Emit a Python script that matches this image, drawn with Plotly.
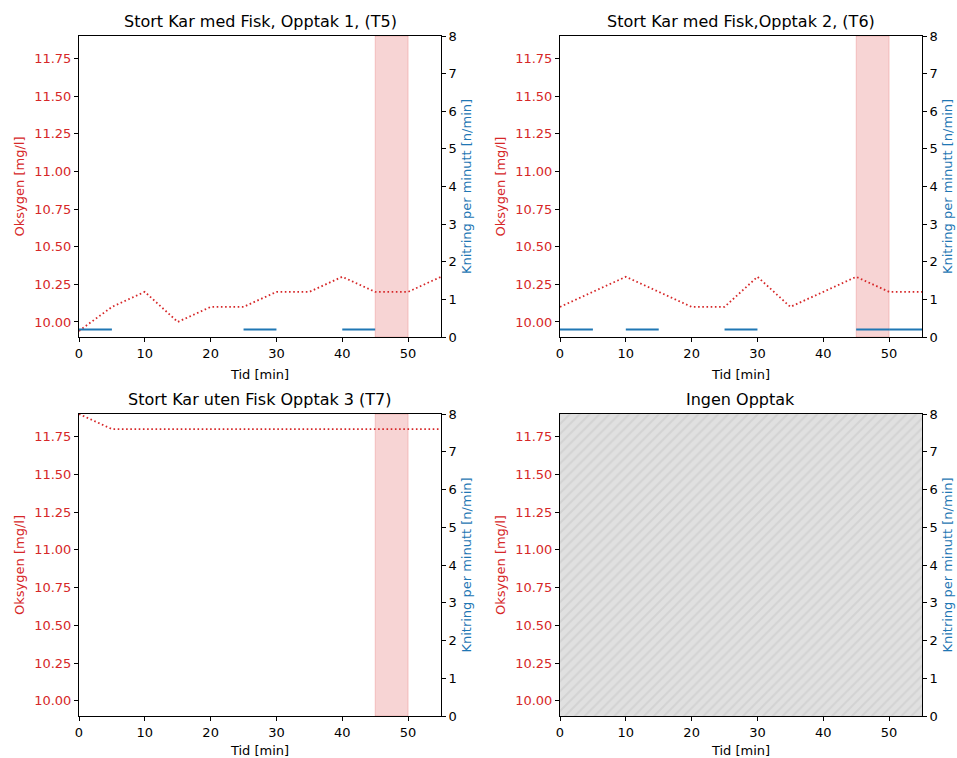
import plotly.graph_objects as go

# ---- data ----
t = [0, 5, 10, 15, 20, 25, 30, 35, 40, 45, 50, 55]
oxy_T5 = [9.94, 10.1, 10.2, 10.0, 10.1, 10.1, 10.2, 10.2, 10.3, 10.2, 10.2, 10.3]
oxy_T6 = [10.1, 10.2, 10.3, 10.2, 10.1, 10.1, 10.3, 10.1, 10.2, 10.3, 10.2, 10.2]
oxy_T7 = [11.9, 11.8, 11.8, 11.8, 11.8, 11.8, 11.8, 11.8, 11.8, 11.8, 11.8, 11.8]
knit_starts_T5 = [0, 25, 40, 55]
knit_starts_T6 = [0, 10, 25, 45, 50]
knit_rate = 0.2
interval = 5
span_start, span_end = 45, 50
titles = ["Stort Kar med Fisk, Opptak 1, (T5)", "Stort Kar med Fisk,Opptak 2, (T6)",
          "Stort Kar uten Fisk Opptak 3 (T7)", "Ingen Opptak"]
oxy_ticks = [10.00, 10.25, 10.50, 10.75, 11.00, 11.25, 11.50, 11.75]
knit_ticks = [0, 1, 2, 3, 4, 5, 6, 7, 8]
x_ticks = [0, 10, 20, 30, 40, 50]

RED = "#d62728"
BLUE = "#1f77b4"
W, H = 957, 758

def fx(px):
    return px / W

def fy(py):
    return 1 - py / H

xdoms = [[fx(79), fx(441)], [fx(560), fx(922)]]
ydoms = [[fy(337), fy(36)], [fy(716), fy(414)]]

fig = go.Figure()
font = dict(family="DejaVu Sans", size=13, color="black")
layout = dict(width=W, height=H, margin=dict(l=0, r=0, t=0, b=0),
              paper_bgcolor="white", plot_bgcolor="white", showlegend=False,
              font=font)
annotations = []
shapes = []

def knit_xy(starts):
    xs, ys = [], []
    for s in starts:
        xs += [s, s + interval, None]
        ys += [knit_rate, knit_rate, None]
    return xs, ys

panels = [
    (oxy_T5, knit_starts_T5, True),
    (oxy_T6, knit_starts_T6, True),
    (oxy_T7, None, True),
    (None, None, False),
]

for i, (oxy, knits, span) in enumerate(panels):
    r, c = divmod(i, 2)
    n = i + 1
    xa = "x" if n == 1 else f"x{n}"
    ya_l_num = 2 * i + 1
    ya_r_num = 2 * i + 2
    ya_l = "y" if ya_l_num == 1 else f"y{ya_l_num}"
    ya_r = f"y{ya_r_num}"
    xkey = "xaxis" if n == 1 else f"xaxis{n}"
    ylkey = "yaxis" if ya_l_num == 1 else f"yaxis{ya_l_num}"
    yrkey = f"yaxis{ya_r_num}"

    layout[xkey] = dict(domain=xdoms[c], anchor=ya_l, range=[0, 55], tickvals=x_ticks,
                        showline=True, linecolor="black", linewidth=1, mirror=True,
                        ticks="outside", ticklen=4, tickcolor="black", showgrid=False,
                        zeroline=False, automargin=False,
                        title=dict(text="Tid [min]", standoff=10, font=dict(size=13)),
                        tickfont=dict(size=13))
    layout[ylkey] = dict(domain=ydoms[r], anchor=xa, range=[9.9, 11.9], tickvals=oxy_ticks,
                         tickformat=".2f", showline=True, linecolor="black", linewidth=1,
                         ticks="outside", ticklen=4, tickcolor="black", showgrid=False,
                         zeroline=False, automargin=False,
                         tickfont=dict(color=RED, size=13),
                         title=dict(text="Oksygen [mg/l]", font=dict(color=RED, size=13),
                                    standoff=6))
    layout[yrkey] = dict(domain=ydoms[r], anchor=xa, overlaying=ya_l, side="right",
                         range=[0, 8], tickvals=knit_ticks, showline=True, linecolor="black",
                         linewidth=1, ticks="outside", ticklen=4, tickcolor="black",
                         showgrid=False, zeroline=False, automargin=False,
                         tickfont=dict(size=13),
                         title=dict(text="Knitring per minutt [n/min]",
                                    font=dict(color=BLUE, size=13), standoff=6))

    if span:
        shapes.append(dict(type="rect", xref=xa, yref=f"{ya_l} domain", x0=span_start,
                           x1=span_end, y0=0, y1=1, fillcolor="rgba(214,39,40,0.2)",
                           line=dict(color="rgba(214,39,40,0.2)", width=1), layer="below"))
    if i == 3:
        fig.add_trace(go.Bar(x=[27.5], y=[2.0], base=[9.9], width=[55], xaxis=xa, yaxis=ya_l,
                             marker=dict(color="#e0e0e0", line=dict(width=0),
                                         pattern=dict(shape="/", fgcolor="#c6c6c6",
                                                      bgcolor="#e0e0e0", size=7,
                                                      solidity=0.3)),
                             hoverinfo="skip"))
    if oxy is not None:
        fig.add_trace(go.Scatter(x=t, y=oxy, mode="lines", xaxis=xa, yaxis=ya_l,
                                 line=dict(color=RED, width=1.8, dash="1.6px,2.6px")))
    else:
        fig.add_trace(go.Scatter(x=[None], y=[None], mode="lines", xaxis=xa, yaxis=ya_l,
                                 hoverinfo="skip"))
    if knits is not None:
        kx, ky = knit_xy(knits)
        fig.add_trace(go.Scatter(x=kx, y=ky, mode="lines", xaxis=xa, yaxis=ya_r,
                                 line=dict(color=BLUE, width=2), connectgaps=False))
    else:
        fig.add_trace(go.Scatter(x=[None], y=[None], mode="lines", xaxis=xa, yaxis=ya_r,
                                 hoverinfo="skip"))

    xc = (xdoms[c][0] + xdoms[c][1]) / 2
    annotations.append(dict(text=titles[i], x=xc, y=ydoms[r][1], xref="paper", yref="paper",
                            xanchor="center", yanchor="bottom", yshift=3, showarrow=False,
                            font=dict(size=16, color="black")))

layout["annotations"] = annotations
layout["shapes"] = shapes
fig.update_layout(**layout)
fig.write_html("out.html")
